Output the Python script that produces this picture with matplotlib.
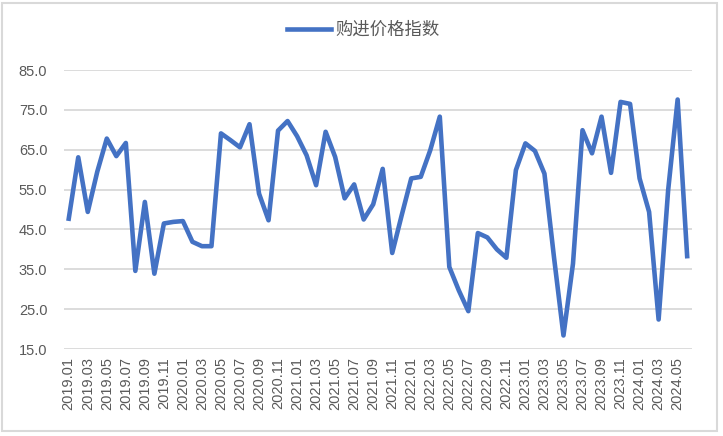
"""购进价格指数 line chart"""

from matplotlib import pyplot as plt
from matplotlib.patches import Rectangle

plt.rcParams['font.family'] = ['Liberation Sans', 'Noto Sans CJK SC', 'DejaVu Sans']

# monthly labels 2019.01 - 2024.06
months = [f'{y}.{m:02d}' for y in range(2019, 2025) for m in range(1, 13)][:66]

values = [
    47.7, 63.1, 49.4, 59.5, 67.8, 63.4, 66.7, 34.6, 51.9, 33.9, 46.5, 46.9,   # 2019
    47.1, 41.9, 40.8, 40.8, 69.1, 67.4, 65.6, 71.4, 54.0, 47.3, 69.8, 72.2,   # 2020
    68.4, 63.6, 56.1, 69.5, 63.2, 52.8, 56.3, 47.5, 51.3, 60.2, 39.1, 48.6,   # 2021
    57.8, 58.2, 64.9, 73.3, 35.6, 29.7, 24.5, 44.1, 43.0, 40.0, 37.9, 59.9,   # 2022
    66.6, 64.7, 59.0, 38.1, 18.4, 36.4, 69.9, 64.1, 73.3, 59.2, 77.0, 76.5,   # 2023
    57.8, 49.4, 22.4, 54.8, 77.6, 38.3,                                       # 2024
]

yticks = [15, 25, 35, 45, 55, 65, 75, 85]

grey = '#595959'

fig = plt.figure(figsize=(7.23, 4.36), dpi=100)
ax = fig.add_axes([0.0885, 0.1995, 0.8685, 0.6399])

x = list(range(len(values)))
ax.plot(x, values, color='#4472C4', linewidth=3.3, solid_joinstyle='round',
        label='购进价格指数')

ax.set_xlim(-0.5, len(values) - 0.5)
ax.set_ylim(15, 85)
ax.set_yticks(yticks)
ax.set_yticklabels([f'{v:.1f}' for v in yticks])
ax.set_xticks(x[::2])
ax.set_xticklabels(months[::2], rotation=90)

ax.grid(axis='y', color='#d9d9d9', linewidth=1.3)
ax.set_axisbelow(True)
for side in ['top', 'right', 'left', 'bottom']:
    ax.spines[side].set_visible(False)
ax.tick_params(axis='both', length=0, colors=grey, labelsize=10.5)
ax.tick_params(axis='y', pad=12)
ax.tick_params(axis='x', pad=6)

leg = fig.legend(loc='center', bbox_to_anchor=(0.503, 0.932), frameon=False,
                 handlelength=2.5, handletextpad=0.3,
                 prop={'family': ['Noto Sans CJK SC', 'DejaVu Sans'], 'size': 12.5})
for text in leg.get_texts():
    text.set_color(grey)

# chart frame
fig.patches.append(Rectangle((0.003, 0.012), 0.989, 0.981, transform=fig.transFigure,
                             fill=False, edgecolor='#d9d9d9', linewidth=1.5))

fig.savefig('out.png', dpi=100)
